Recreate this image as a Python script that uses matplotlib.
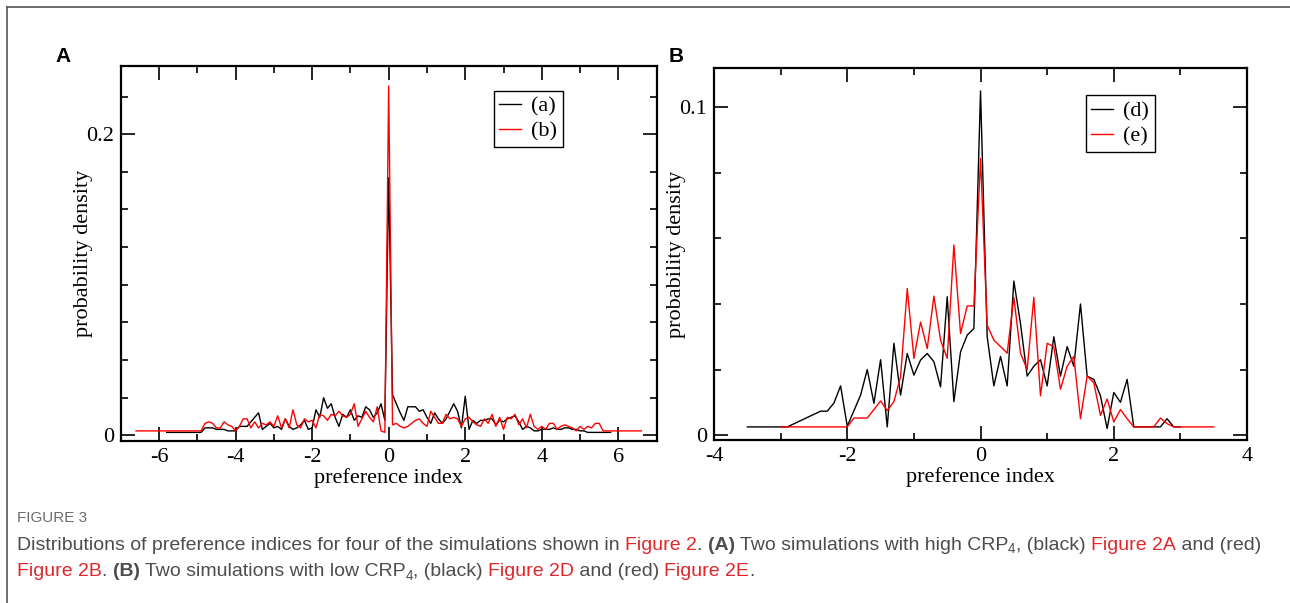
import matplotlib.pyplot as plt
from matplotlib.lines import Line2D
from matplotlib.ticker import MultipleLocator

# ---- panel A : two runs with high CRP4 ----
a_grid = [round(-4.9 + 0.1 * i, 1) for i in range(107)]   # -4.9 .. 5.7
a_x = [-5.8] + a_grid + [5.8]
a_y = [0.002,
       0.002, 0.005, 0.005, 0.005, 0.004, 0.004, 0.004, 0.003, 0.003, 0.003,
       0.006, 0.006, 0.006, 0.009, 0.012, 0.015, 0.004, 0.006, 0.008, 0.005,
       0.006, 0.004, 0.011, 0.006, 0.004, 0.005, 0.007, 0.010, 0.004, 0.005,
       0.017, 0.012, 0.025, 0.018, 0.021, 0.012, 0.006, 0.014, 0.012, 0.017,
       0.010, 0.013, 0.012, 0.019, 0.017, 0.012, 0.015, 0.021, 0.010,
       0.171,
       0.027, 0.021, 0.015, 0.010, 0.019, 0.019, 0.019, 0.016, 0.017, 0.012,
       0.008, 0.015, 0.011, 0.008, 0.011, 0.016, 0.021, 0.016, 0.005, 0.026,
       0.004, 0.010, 0.008, 0.010, 0.010, 0.011, 0.011, 0.007, 0.010, 0.009,
       0.011, 0.012, 0.013, 0.009, 0.004, 0.006, 0.005, 0.003, 0.003, 0.004,
       0.004, 0.004, 0.005, 0.004, 0.004, 0.005, 0.005, 0.004, 0.004, 0.003,
       0.003, 0.002, 0.002, 0.002, 0.002, 0.002, 0.002,
       0.002]

b_grid = [round(-4.9 + 0.1 * i, 1) for i in range(106)]   # -4.9 .. 5.6
b_x = [-6.6] + b_grid + [6.6]
b_y = [0.003,
       0.003, 0.008, 0.009, 0.008, 0.005, 0.005, 0.009, 0.007, 0.006, 0.003,
       0.006, 0.011, 0.011, 0.005, 0.009, 0.005, 0.008, 0.007, 0.009, 0.006,
       0.013, 0.005, 0.011, 0.005, 0.017, 0.007, 0.005, 0.011, 0.009, 0.010,
       0.005, 0.014, 0.013, 0.010, 0.014, 0.013, 0.016, 0.013, 0.012, 0.014,
       0.021, 0.006, 0.011, 0.016, 0.012, 0.009, 0.019, 0.003, 0.002,
       0.232,
       0.007, 0.008, 0.006, 0.005, 0.006, 0.008, 0.010, 0.011, 0.008, 0.006,
       0.016, 0.012, 0.008, 0.008, 0.014, 0.011, 0.012, 0.011, 0.006, 0.011,
       0.012, 0.009, 0.007, 0.006, 0.011, 0.008, 0.014, 0.006, 0.012, 0.004,
       0.012, 0.011, 0.014, 0.007, 0.011, 0.005, 0.014, 0.006, 0.004, 0.006,
       0.004, 0.008, 0.008, 0.004, 0.006, 0.007, 0.006, 0.005, 0.003, 0.006,
       0.004, 0.006, 0.005, 0.008, 0.008, 0.003,
       0.003]

# ---- panel B : two runs with low CRP4 ----
d_x = [-3.5, -2.9, -2.4, -2.3, -2.2, -2.1, -2.0, -1.8, -1.7, -1.6, -1.5, -1.4,
       -1.3, -1.2, -1.1, -1.0, -0.9, -0.8, -0.7, -0.6, -0.5, -0.4, -0.3, -0.2,
       -0.1, 0.0, 0.1, 0.2, 0.3, 0.4, 0.5, 0.6, 0.7, 0.8, 0.9, 1.0, 1.1, 1.2,
       1.3, 1.4, 1.5, 1.6, 1.7, 1.8, 1.9, 2.0, 2.1, 2.2, 2.3, 2.7, 2.8, 2.9, 3.0]
d_y = [0.0025, 0.0025, 0.0073, 0.0073, 0.0098, 0.015, 0.0027, 0.0122, 0.020,
       0.0097, 0.023, 0.0025, 0.028, 0.0122, 0.0249, 0.0183, 0.0229, 0.0249,
       0.0224, 0.0147, 0.0422, 0.0102, 0.0254, 0.0305, 0.0325, 0.105, 0.030,
       0.015, 0.024, 0.015, 0.047, 0.034, 0.018, 0.021, 0.023, 0.015, 0.030,
       0.018, 0.027, 0.021, 0.040, 0.018, 0.017, 0.012, 0.002, 0.013, 0.010,
       0.017, 0.0025, 0.0025, 0.005, 0.0025, 0.0025]

e_x = [-3.0, -2.0, -1.9, -1.7, -1.5, -1.4, -1.3, -1.2, -1.1, -1.0, -0.9, -0.8,
       -0.7, -0.6, -0.5, -0.4, -0.3, -0.2, -0.1, 0.0, 0.1, 0.2, 0.3, 0.4, 0.5,
       0.6, 0.7, 0.8, 0.9, 1.0, 1.1, 1.2, 1.3, 1.4, 1.5, 1.6, 1.7, 1.8, 1.9,
       2.0, 2.1, 2.2, 2.3, 2.6, 2.7, 2.8, 2.9, 3.5]
e_y = [0.0025, 0.0025, 0.0052, 0.0052, 0.0104, 0.0075, 0.0102, 0.0178, 0.0447,
       0.0234, 0.0345, 0.0264, 0.0424, 0.029, 0.0234, 0.058, 0.031, 0.0394,
       0.0394, 0.0844, 0.0335, 0.029, 0.027, 0.025, 0.042, 0.025, 0.020, 0.042,
       0.012, 0.028, 0.027, 0.014, 0.021, 0.024, 0.005, 0.018, 0.016, 0.006,
       0.011, 0.004, 0.0078, 0.005, 0.0025, 0.0025, 0.0052, 0.0035, 0.0025,
       0.0025]

GRAY = "#4d4d4d"
LINK = "#e2262b"

plt.rcParams["font.family"] = ["Liberation Serif", "DejaVu Serif"]
fig = plt.figure(figsize=(12.9, 6.03), dpi=100)


def style_axes(ax):
    ax.tick_params(which="both", direction="in", top=True, right=True,
                   labelsize=16, width=1.2, pad=5)
    ax.tick_params(which="major", length=10)
    ax.tick_params(which="minor", length=5)
    for s in ax.spines.values():
        s.set_linewidth(1.6)
    ax.set_xlabel("preference index", fontsize=16, labelpad=1)
    ax.set_ylabel("probability density", fontsize=16, labelpad=-5)
    ax.yaxis.set_major_formatter(plt.FuncFormatter(lambda v, p: "0" if abs(v) < 1e-9 else f"{v:g}"))
    ax.xaxis.set_major_formatter(plt.FuncFormatter(lambda v, p: f"{v:g}"))


def add_legend(ax, anchor):
    leg = ax.legend(loc="upper right", bbox_to_anchor=anchor, fontsize=16,
                    frameon=True, fancybox=False, edgecolor="black", framealpha=1,
                    handlelength=1.0, handletextpad=0.45, borderpad=0.25,
                    labelspacing=0.2, borderaxespad=0)
    leg.get_frame().set_linewidth(1.0)


axA = fig.add_axes([0.0936, 0.2687, 0.4154, 0.6224])
axA.plot(a_x, a_y, color="black", lw=1.0, label="(a)")
axA.plot(b_x, b_y, color="red", lw=1.0, label="(b)")
axA.set_xlim(-7, 7)
axA.set_ylim(-0.0037, 0.2455)
axA.xaxis.set_major_locator(MultipleLocator(2))
axA.xaxis.set_minor_locator(MultipleLocator(1))
axA.yaxis.set_major_locator(MultipleLocator(0.2))
axA.yaxis.set_minor_locator(MultipleLocator(0.025))
style_axes(axA)
add_legend(axA, (0.825, 0.933))

axB = fig.add_axes([0.5535, 0.2703, 0.4132, 0.6169])
axB.plot(d_x, d_y, color="black", lw=1.0, label="(d)")
axB.plot(e_x, e_y, color="red", lw=1.0, label="(e)")
axB.set_xlim(-4, 4)
axB.set_ylim(-0.0015, 0.112)
axB.xaxis.set_major_locator(MultipleLocator(2))
axB.xaxis.set_minor_locator(MultipleLocator(1))
axB.yaxis.set_major_locator(MultipleLocator(0.1))
axB.yaxis.set_minor_locator(MultipleLocator(0.02))
style_axes(axB)
add_legend(axB, (0.827, 0.927))

# panel letters
fig.text(63 / 1290, 1 - 57 / 603, "A", fontsize=15, fontweight="bold",
         family="Liberation Sans", ha="center", va="center")
fig.text(676 / 1290, 1 - 57 / 603, "B", fontsize=15, fontweight="bold",
         family="Liberation Sans", ha="center", va="center")

# frame lines (top and left)
fig.add_artist(Line2D([7 / 1290, 1.0], [1 - 7 / 603, 1 - 7 / 603], color="#555555", lw=1.2))
fig.add_artist(Line2D([7 / 1290, 7 / 1290], [0.0, 1 - 7 / 603], color="#555555", lw=1.2))

# ---- caption ----
CAP_FONT = ["Liberation Sans", "DejaVu Sans"]
CAP_SIZE = 14.0
fig.text(17 / 1290, 1 - 518 / 603, "FIGURE 3", fontsize=11, color="#6b6b6b",
         family=CAP_FONT, va="center")

renderer = fig.canvas.get_renderer()


def text_width(s, weight, size):
    t1 = fig.text(0, 0, s + "|", fontsize=size, family=CAP_FONT, fontweight=weight)
    t2 = fig.text(0, 0, "|", fontsize=size, family=CAP_FONT, fontweight=weight)
    w = t1.get_window_extent(renderer).width - t2.get_window_extent(renderer).width
    t1.remove()
    t2.remove()
    return w


def caption_line(y_px, parts):
    x = 17.0
    for s, col, weight, sub in parts:
        size = CAP_SIZE * 0.7 if sub else CAP_SIZE
        dy = 4 if sub else 0
        fig.text(x / 1290, 1 - (y_px + dy) / 603, s, fontsize=size, color=col,
                 family=CAP_FONT, fontweight=weight, va="center")
        x += text_width(s, weight, size)


caption_line(545, [
    ("Distributions of preference indices for four of the simulations shown in ", GRAY, "normal", False),
    ("Figure 2", LINK, "normal", False),
    (". ", GRAY, "normal", False),
    ("(A)", GRAY, "bold", False),
    (" Two simulations with high CRP", GRAY, "normal", False),
    ("4", GRAY, "normal", True),
    (", (black) ", GRAY, "normal", False),
    ("Figure 2A", LINK, "normal", False),
    (" and (red)", GRAY, "normal", False),
])
caption_line(572, [
    ("Figure 2B", LINK, "normal", False),
    (". ", GRAY, "normal", False),
    ("(B)", GRAY, "bold", False),
    (" Two simulations with low CRP", GRAY, "normal", False),
    ("4", GRAY, "normal", True),
    (", (black) ", GRAY, "normal", False),
    ("Figure 2D", LINK, "normal", False),
    (" and (red) ", GRAY, "normal", False),
    ("Figure 2E", LINK, "normal", False),
    (".", GRAY, "normal", False),
])

fig.savefig("out.png", dpi=100)
